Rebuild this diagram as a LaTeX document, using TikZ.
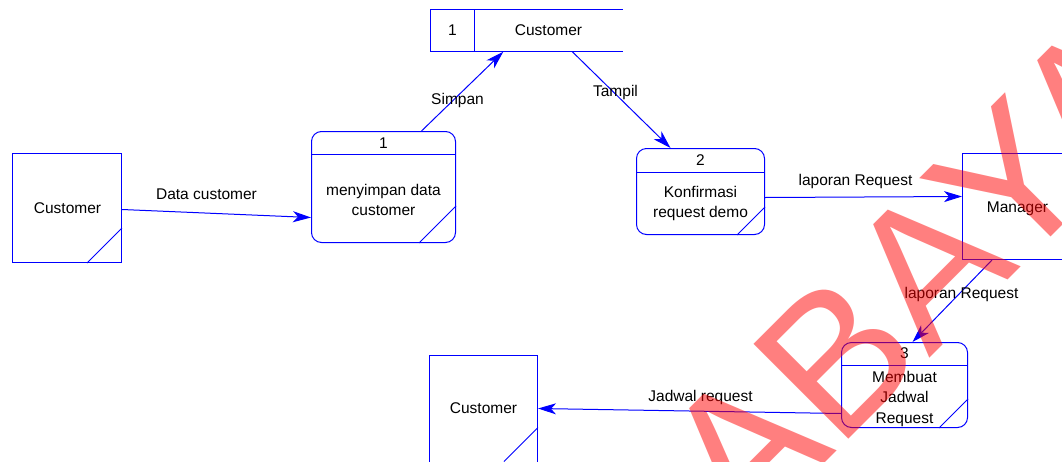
\documentclass[tikz,border=0pt]{standalone}
\usepackage{fontspec}
\setmainfont{Liberation Sans}
\usetikzlibrary{arrows.meta,calc}
\definecolor{dfdblue}{RGB}{0,0,255}

\begin{document}
\begin{tikzpicture}[x=1pt,y=-1pt,
  ln/.style={draw=dfdblue, line width=1pt},
  flow/.style={draw=dfdblue, line width=1pt, -{Stealth[length=18pt,width=11pt,inset=5pt]}},
  txt/.style={font=\fontsize{15.5}{20}\selectfont, text=black, inner sep=0pt, align=center},
  entity/.style={ln, rectangle, inner sep=0pt},
  proc/.style={ln, rectangle, rounded corners=10pt, inner sep=0pt},
  watermark/.style={rotate=45, anchor=base west, text=red, opacity=0.5, inner sep=0pt,
    font=\fontsize{195}{195}\selectfont}
]
\useasboundingbox (-0.5,-0.5) rectangle (1061.5,460.5);
\clip (-0.5,-0.5) rectangle (1061.5,460.5);

% external entities
\node[entity, minimum width=109pt, minimum height=109pt] (ent1) at (66.5,207.5) {};
\node[txt] (ent1txt) at (67,208) {Customer};
\draw[ln] ($(ent1.south east)+(0,-35)$) -- ($(ent1.south east)+(-35,0)$);

\node[entity, minimum width=109pt, minimum height=106pt] (mgr) at (1016.5,206) {};
\node[txt] (mgrtxt) at (1017,208) {Manager};

\node[entity, minimum width=108pt, minimum height=110pt] (ent3) at (483,410) {};
\node[txt] (ent3txt) at (483,408) {Customer};
\draw[ln] ($(ent3.east)+(0,17)$) -- ($(ent3.east)+(-34,51)$);

% data store
\node[inner sep=0pt, minimum width=192pt, minimum height=42pt] (store) at (526,30) {};
\draw[ln] (store.north east) -- (store.north west) -- (store.south west) -- (store.south east);
\draw[ln] ($(store.north west)+(44,0)$) -- ($(store.south west)+(44,0)$);
\node[txt] (storenum) at (452,30) {1};
\node[txt] (storetxt) at (548,30) {Customer};

% process 1
\node[proc, minimum width=144pt, minimum height=111pt] (p1) at (383,186.5) {};
\draw[ln] ($(p1.north west)+(0,23)$) -- ($(p1.north east)+(0,23)$);
\draw[ln] ($(p1.south east)+(0,-37)$) -- ($(p1.south east)+(-37,0)$);
\node[txt] (p1num) at (383,142.5) {1};
\node[txt] (p1txt) at (383,199) {menyimpan data\\customer};

% process 2
\node[proc, minimum width=128pt, minimum height=86pt] (p2) at (700,191) {};
\draw[ln] ($(p2.north west)+(0,24)$) -- ($(p2.north east)+(0,24)$);
\draw[ln] ($(p2.south east)+(0,-28)$) -- ($(p2.south east)+(-28,0)$);
\node[txt] (p2num) at (700,160) {2};
\node[txt] (p2txt) at (700,203) {Konfirmasi\\request demo};

% process 3
\node[proc, minimum width=126pt, minimum height=85pt] (p3) at (904,384.5) {};
\draw[ln] ($(p3.north west)+(0,23)$) -- ($(p3.north east)+(0,23)$);
\draw[ln] ($(p3.south east)+(0,-29)$) -- ($(p3.south east)+(-29,0)$);
\node[txt] (p3num) at (904,353) {3};
\node[txt, font=\fontsize{15.5}{20.5}\selectfont] (p3txt) at (904,398) {Membuat\\Jadwal\\Request};

% flows
\draw[flow] ($(ent1.east)+(0,1.5)$) -- ($(p1.west)+(0,30.5)$);
\node[txt] (l1) at (206,194) {Data customer};
\draw[flow] ($(p1.north)+(38,0)$) -- ($(store.south west)+(73,0)$);
\node[txt] (l2) at (457,100) {Simpan};
\draw[flow] ($(store.south west)+(142,0)$) -- ($(p2.north)+(-30,0)$);
\node[txt] (l3) at (615,92) {Tampil};
\draw[flow] ($(p2.east)+(0,6)$) -- ($(mgr.west)+(0,-10)$);
\node[txt] (l4) at (855,181) {laporan Request};
\draw[flow] ($(mgr.south west)+(30,0)$) -- ($(p3.north)+(8,0)$);
\node[txt] (l5) at (961,294) {laporan Request};
\draw[flow] ($(p3.west)+(0,28.5)$) -- ($(ent3.east)+(0,-2)$);
\node[txt] (l6) at (700,397) {Jadwal request};

% watermark
\node[watermark] (wm) at (454,833) {SURABAYA};
\end{tikzpicture}
\end{document}
